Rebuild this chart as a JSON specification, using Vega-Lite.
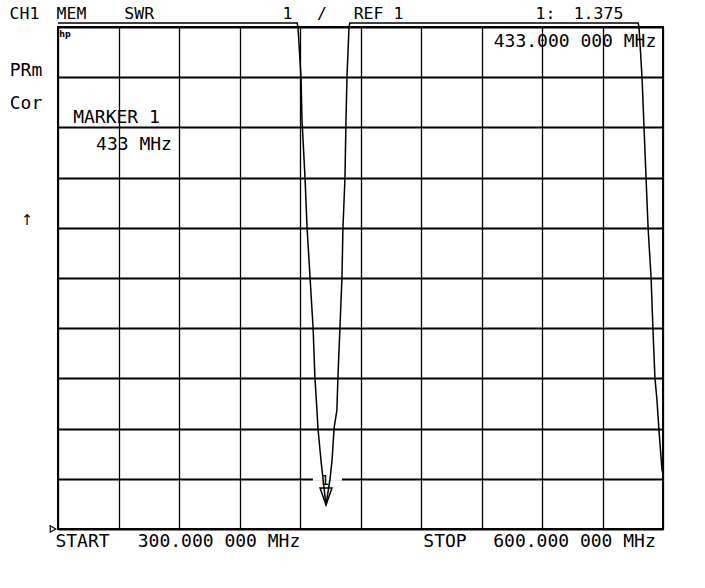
{
  "$schema": "https://vega.github.io/schema/vega-lite/v6.json",
  "width": 605,
  "height": 502,
  "autosize": {"type": "none"},
  "padding": {"left": 58, "top": 27, "right": 42, "bottom": 59},
  "background": "white",
  "config": {
    "view": {"stroke": "black", "strokeWidth": 2},
    "axis": {"labels": false, "ticks": false, "domain": false, "title": null, "grid": true, "gridColor": "black", "gridOpacity": 1},
    "text": {"font": "DejaVu Sans Mono", "color": "black"}
  },
  "datasets": {
    "trace": [
      {"f": 300, "s": 11.08}, {"f": 418.6, "s": 11.08}, {"f": 419.0, "s": 11.0},
      {"f": 420.5, "s": 10.0}, {"f": 421.0, "s": 9.14}, {"f": 422.5, "s": 7.99},
      {"f": 423.5, "s": 7.0}, {"f": 425.0, "s": 6.0}, {"f": 426.5, "s": 5.0},
      {"f": 427.4, "s": 4.01}, {"f": 428.4, "s": 3.37}, {"f": 428.9, "s": 3.01},
      {"f": 430.4, "s": 2.37}, {"f": 431.4, "s": 2.0}, {"f": 432.9, "s": 1.48},
      {"f": 434.9, "s": 2.0}, {"f": 435.9, "s": 2.37}, {"f": 436.9, "s": 3.01},
      {"f": 438.3, "s": 3.37}, {"f": 438.8, "s": 4.01}, {"f": 439.8, "s": 5.0},
      {"f": 440.8, "s": 6.0}, {"f": 441.3, "s": 7.0}, {"f": 442.3, "s": 7.99},
      {"f": 442.8, "s": 9.14}, {"f": 443.3, "s": 10.0}, {"f": 444.3, "s": 11.0},
      {"f": 444.7, "s": 11.08}, {"f": 587.7, "s": 11.08}, {"f": 588.1, "s": 11.0},
      {"f": 589.6, "s": 10.0}, {"f": 590.6, "s": 8.99}, {"f": 591.6, "s": 7.99},
      {"f": 592.6, "s": 7.0}, {"f": 594.1, "s": 6.0}, {"f": 595.0, "s": 5.0},
      {"f": 596.0, "s": 4.01}, {"f": 597.0, "s": 3.57}, {"f": 598.0, "s": 2.97},
      {"f": 599.5, "s": 2.18}, {"f": 600.0, "s": 2.1}
    ],
    "gap": [{"f": 426.4, "f2": 440.8, "s": 2}],
    "marker": [{"f": 432.9, "s": 1.647}],
    "refmark": [{"f": 297.5, "s": 1.0}],
    "header": [
      {"t": "CH1", "f": 283.39, "s": 11.159},
      {"t": "MEM", "f": 306.69, "s": 11.159},
      {"t": "SWR", "f": 340.26, "s": 11.159},
      {"t": "1", "f": 413.8, "s": 11.159},
      {"t": "/", "f": 430.91, "s": 11.159},
      {"t": "REF 1", "f": 458.93, "s": 11.159},
      {"t": "1:", "f": 541.74, "s": 11.159},
      {"t": "1.375", "f": 568.02, "s": 11.159}
    ],
    "labels": [
      {"t": "433.000 000 MHz", "f": 556.37, "s": 10.602},
      {"t": "MARKER 1", "f": 329.01, "s": 9.088},
      {"t": "433 MHz", "f": 337.69, "s": 8.55},
      {"t": "PRm", "f": 284.13, "s": 10.024},
      {"t": "Cor", "f": 284.13, "s": 9.367},
      {"t": "START", "f": 312.15, "s": 0.641},
      {"t": "300.000 000 MHz", "f": 379.83, "s": 0.641},
      {"t": "STOP", "f": 491.9, "s": 0.641},
      {"t": "600.000 000 MHz", "f": 556.12, "s": 0.641}
    ],
    "arrow": [{"t": "↑", "f": 284.63, "s": 6.996}],
    "hp": [{"t": "hp", "f": 303.47, "s": 10.801}],
    "mlabel": [{"t": "1", "f": 432.4, "s": 1.876}]
  },
  "encoding": {
    "x": {"field": "f", "type": "quantitative", "scale": {"domain": [300, 600], "nice": false, "zero": false},
          "axis": {"values": [300, 330, 360, 390, 420, 450, 480, 510, 540, 570, 600], "gridWidth": 1.3}},
    "y": {"field": "s", "type": "quantitative", "scale": {"domain": [1, 11], "nice": false, "zero": false},
          "axis": {"values": [1, 2, 3, 4, 5, 6, 7, 8, 9, 10, 11], "gridWidth": 2}}
  },
  "layer": [
    {"data": {"name": "gap"}, "mark": {"type": "rule", "color": "white", "strokeWidth": 4}, "encoding": {"x2": {"field": "f2"}}},
    {"data": {"name": "trace"}, "mark": {"type": "line", "color": "black", "strokeWidth": 1.5, "clip": false}},
    {"data": {"name": "marker"}, "mark": {"type": "point", "shape": "M -0.7 -1 L 0.7 -1 L 0 1 Z", "size": 289, "filled": false, "color": "black", "strokeWidth": 1.5, "opacity": 1}},
    {"data": {"name": "refmark"}, "mark": {"type": "point", "shape": "triangle-right", "size": 40, "filled": false, "color": "black", "strokeWidth": 1.2, "opacity": 1, "clip": false}},
    {"data": {"name": "header"}, "mark": {"type": "text", "fontSize": 16.5, "align": "center", "baseline": "alphabetic", "clip": false}, "encoding": {"text": {"field": "t"}}},
    {"data": {"name": "labels"}, "mark": {"type": "text", "fontSize": 18, "align": "center", "baseline": "alphabetic", "clip": false}, "encoding": {"text": {"field": "t"}}},
    {"data": {"name": "arrow"}, "mark": {"type": "text", "font": "DejaVu Sans", "fontSize": 15, "align": "center", "baseline": "bottom", "clip": false}, "encoding": {"text": {"field": "t"}}},
    {"data": {"name": "hp"}, "mark": {"type": "text", "fontSize": 8, "fontWeight": "bold", "font": "DejaVu Sans", "align": "center", "baseline": "alphabetic"}, "encoding": {"text": {"field": "t"}}},
    {"data": {"name": "mlabel"}, "mark": {"type": "text", "fontSize": 14, "align": "center", "baseline": "alphabetic"}, "encoding": {"text": {"field": "t"}}}
  ]
}
